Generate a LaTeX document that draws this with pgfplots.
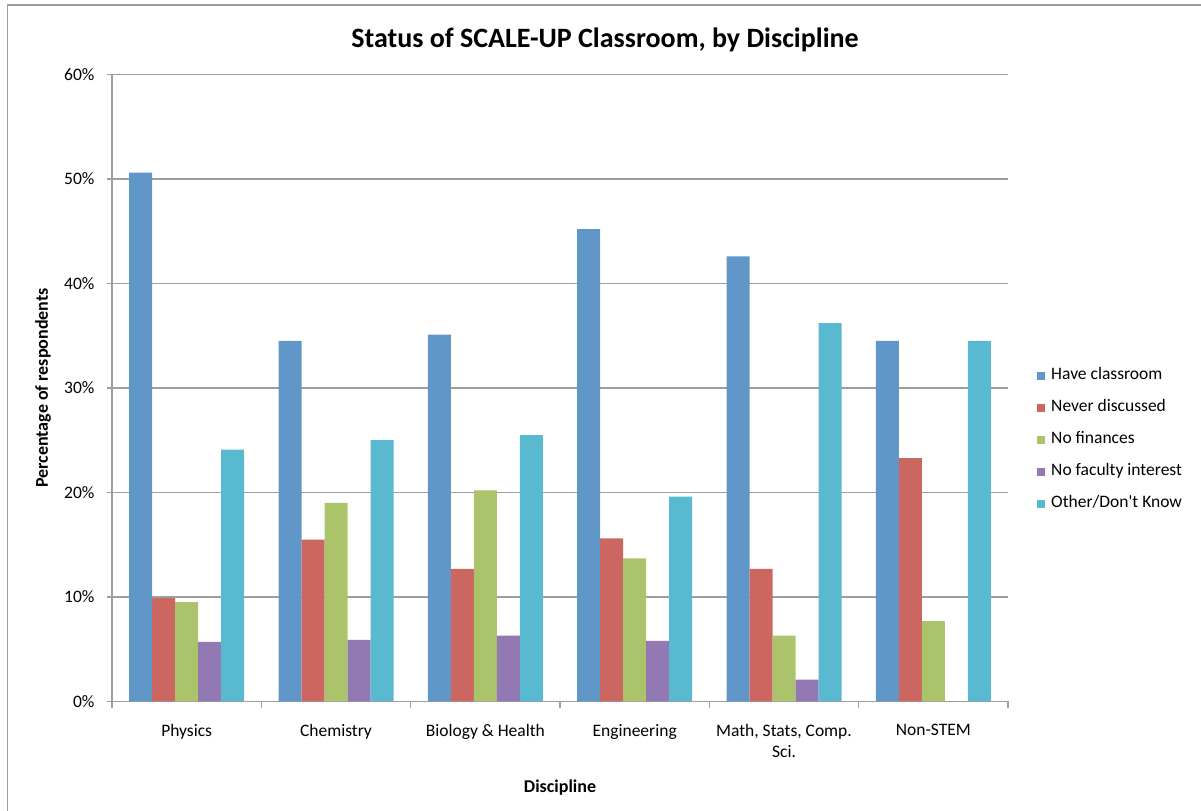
\documentclass[border=0pt]{standalone}
\usepackage{fontspec}
\setmainfont{Carlito}
\usepackage{pgfplots}
\pgfplotsset{compat=1.18}

\definecolor{cHave}{RGB}{96,150,200}
\definecolor{cNever}{RGB}{204,102,96}
\definecolor{cFin}{RGB}{171,195,107}
\definecolor{cFac}{RGB}{146,121,179}
\definecolor{cOther}{RGB}{88,185,208}
\definecolor{axisgray}{RGB}{158,158,158}

\newcommand{\lblfont}{\fontsize{17.5bp}{21bp}\selectfont}

\pgfplotsset{
  sqlegend/.style={legend image code/.code={%
    \fill[##1] (0bp,-4bp) rectangle (8bp,4bp);}},
}

\begin{document}
\begin{tikzpicture}[x=1bp,y=1bp]
\useasboundingbox (0,0) rectangle (1201,811);
% outer chart frame
\draw[line width=1.5bp, color=axisgray] (7.5,0) -- (7.5,806) -- (1201,806);

\node[font=\bfseries\fontsize{28bp}{32bp}\selectfont] at (605,771)
  {Status of SCALE-UP Classroom, by Discipline};
\node[font=\bfseries\fontsize{18bp}{21bp}\selectfont, rotate=90] at (43,423)
  {Percentage of respondents};
\node[font=\bfseries\fontsize{18bp}{21bp}\selectfont] at (560,23)
  {Discipline};

\begin{axis}[
  at={(112bp,109.5bp)}, anchor=south west,
  scale only axis, width=896bp, height=627bp,
  xmin=-0.5, xmax=5.5, ymin=0, ymax=60,
  ybar=0pt, bar width=23bp,
  xtick={0,...,5},
  xticklabels={Physics, Chemistry, Biology \& Health, Engineering,
    {Math, Stats, Comp.\\Sci.}, Non-STEM},
  x tick label style={align=center, font=\lblfont, yshift=-14bp},
  minor xtick={-0.5,0.5,...,5.5},
  ytick={0,10,...,60},
  yticklabels={0\%,10\%,20\%,30\%,40\%,50\%,60\%},
  y tick label style={font=\lblfont, xshift=-9bp},
  ymajorgrids, grid style={axisgray, line width=1.2bp},
  axis lines*=left, axis line style={axisgray, line width=1.2bp},
  tick align=outside, major tick length=5bp, minor tick length=7bp,
  tick style={axisgray, line width=1.2bp},
  major x tick style={draw=none},
  sqlegend,
  legend style={at={(axis description cs:1.0324,0.4171)}, anchor=west,
    draw=none, fill=none, inner sep=0pt,
    nodes={font=\lblfont, inner sep=0pt, text height=12bp, text depth=4bp},
    row sep=16bp, column sep=6bp, legend cell align=left},
  every axis plot/.append style={draw=none},
]
\addplot[fill=cHave] coordinates {(0,50.6) (1,34.5) (2,35.1) (3,45.2) (4,42.6) (5,34.5)};
\addplot[fill=cNever] coordinates {(0,9.9) (1,15.5) (2,12.7) (3,15.6) (4,12.7) (5,23.3)};
\addplot[fill=cFin] coordinates {(0,9.5) (1,19.0) (2,20.2) (3,13.7) (4,6.3) (5,7.7)};
\addplot[fill=cFac] coordinates {(0,5.7) (1,5.9) (2,6.3) (3,5.8) (4,2.1) (5,0)};
\addplot[fill=cOther] coordinates {(0,24.1) (1,25.0) (2,25.5) (3,19.6) (4,36.2) (5,34.5)};
\legend{Have classroom, Never discussed, No finances, No faculty interest, Other/Don\textquotesingle t Know}
\end{axis}
\end{tikzpicture}
\end{document}
